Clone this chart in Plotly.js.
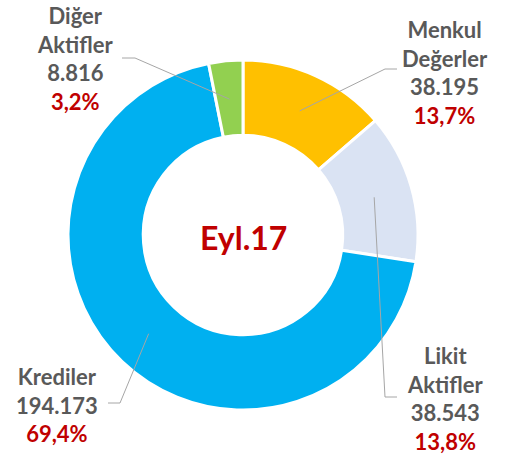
<!DOCTYPE html>
<html><head><meta charset="utf-8">
<script src="https://cdn.plot.ly/plotly-3.0.1.min.js"></script>
<style>html,body{margin:0;padding:0;background:#fff}#c{width:508px;height:461px}</style>
</head><body><div id="c"></div>
<script>
var categories = ["Menkul<br>Değerler", "Likit<br>Aktifler", "Krediler", "Diğer<br>Aktifler"];
var values = [38.195, 38.543, 194.173, 8.816];
var valueLabels = ["38.195", "38.543", "194.173", "8.816"];
var colors = ["#FFC000", "#DAE3F3", "#00B0F0", "#92D050"];
var centerLabel = "Eyl.17";

var W = 508, H = 461;
var cx = 243, cy = 235, R = 175;
// label blocks (pixel centres) and leader elbow points
var labelPos = [[445, 72], [445, 398], [57, 405], [75, 59]];
var elbows = [[[397, 69], [385, 69]], [[397, 397], [385, 397]], [[108, 403], [120, 403]], [[122, 58], [135, 58]]];

var total = values.reduce(function(a, b){return a + b;}, 0);
function px(x){return x / W;}
function py(y){return 1 - y / H;}

var font = "Lato, 'Open Sans', sans-serif";
var annotations = [];
var shapes = [];
var cum = 0;
for (var i = 0; i < values.length; i++) {
  var pct = (values[i] / total * 100).toFixed(1).replace('.', ',');
  var mid = (cum + values[i] / 2) / total * 2 * Math.PI;
  cum += values[i];
  var ax = cx + 0.78 * R * Math.sin(mid);
  var ay = cy - 0.78 * R * Math.cos(mid);
  annotations.push({
    xref: 'paper', yref: 'paper', x: px(labelPos[i][0]), y: py(labelPos[i][1]),
    xanchor: 'center', yanchor: 'middle', showarrow: false, align: 'center',
    text: '<b>' + categories[i] + '<br>' + valueLabels[i] + '<br><span style="color:#C00000">' + pct + '%</span></b>',
    font: {family: font, size: 22, color: '#595959'}
  });
  var e = elbows[i];
  shapes.push({
    type: 'path', xref: 'paper', yref: 'paper',
    path: 'M' + px(e[0][0]) + ',' + py(e[0][1]) + ' L' + px(e[1][0]) + ',' + py(e[1][1]) + ' L' + px(ax) + ',' + py(ay),
    line: {color: '#A6A6A6', width: 1}
  });
}
annotations.push({
  xref: 'paper', yref: 'paper', x: px(cx), y: py(cy + 2), xanchor: 'center', yanchor: 'middle',
  showarrow: false, text: '<b>' + centerLabel + '</b>',
  font: {family: font, size: 32, color: '#C00000'}
});

var data = [{
  type: 'pie', values: values, labels: categories, sort: false, direction: 'clockwise', rotation: 0,
  hole: 0.57, textinfo: 'none', hoverinfo: 'none',
  marker: {colors: colors, line: {color: '#FFFFFF', width: 3}},
  domain: {x: [px(cx - R), px(cx + R)], y: [py(cy + R), py(cy - R)]}
}];
var layout = {
  width: W, height: H, margin: {l: 0, r: 0, t: 0, b: 0},
  showlegend: false, paper_bgcolor: '#fff',
  annotations: annotations, shapes: shapes
};
Plotly.newPlot('c', data, layout, {displayModeBar: false, staticPlot: true});
</script></body></html>
